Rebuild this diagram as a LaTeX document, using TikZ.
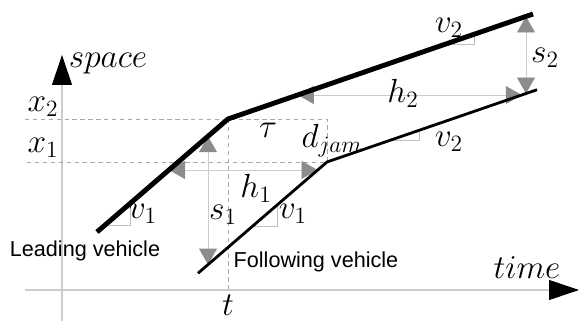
\documentclass[tikz,border=0pt]{standalone}
\usepackage{fix-cm}
\usepackage{fontspec}
\newfontfamily\vehicleFont{Liberation Sans}
\usetikzlibrary{arrows.meta, calc}
\tikzset{
    axisLine/.style={line width=0.6pt, draw=black!20, -{Triangle[length=6mm, width=4mm, color=black]}},
    leadLine/.style={line width=2.8pt},
    followLine/.style={line width=1.6pt},
    gapLine/.style={{Triangle[length=3.2mm, width=3.6mm, color=black!45]}-{Triangle[length=3.2mm, width=3.6mm, color=black!45]}, line width=0.5pt, draw=black!20},
    slopeLine/.style={line width=0.5pt, draw=black!25},
    guideLine/.style={dash pattern=on 2.5pt off 2pt, line width=0.45pt, draw=blue!15!black!35},
    mathLabel/.style={font=\fontsize{19}{21}\selectfont, inner sep=1pt},
    vehLabel/.style={font=\vehicleFont\fontsize{12.3}{14}\selectfont, inner sep=0pt}
}

\begin{document}
\begin{tikzpicture}

        \useasboundingbox (-1.24,-0.62) rectangle (10.34,5.8);

        % Coordinates
        \coordinate (O) at (0, 0);
        \coordinate (timeStart) at (-0.74, 0);
        \coordinate (timeEnd) at (10.34, 0);
        \coordinate (spaceStart) at (0, -0.62);
        \coordinate (spaceEnd) at (0, 4.7);
        \coordinate (X2) at (-0.74, 3.42);
        \coordinate (X1) at (-0.74, 2.56);

        % Leading vehicle trajectory
        \coordinate (L1) at (0.7, 1.16);
        \coordinate (L2) at (3.32, 3.42);
        \coordinate (L3) at (9.42, 5.52);
        % Following vehicle trajectory (shifted by tau and d_jam)
        \coordinate (F1) at (2.72, 0.335);
        \coordinate (F2) at (5.3, 2.56);
        \coordinate (F3) at (9.5, 4.005);

        % Axes
        \draw[axisLine] (timeStart) -- (timeEnd);
        \draw[axisLine] (spaceStart) -- (spaceEnd);

        % Guides
        \draw[guideLine] (X2) -- (F2 |- L2) -- (F2) -- (X1);
        \draw[guideLine] (L2) -- (L2 |- O);

        % Spacing and headway arrows
        \coordinate (s1Top) at (2.92, 3.075);
        \coordinate (s1Bot) at (2.92, 0.508);
        \coordinate (h1Left) at (2.14, 2.4);
        \coordinate (h1Right) at (5.11, 2.4);
        \coordinate (h2Left) at (4.715, 3.9);
        \coordinate (h2Right) at (9.195, 3.9);
        \coordinate (s2Top) at (9.28, 5.47);
        \coordinate (s2Bot) at (9.28, 3.929);
        \draw[gapLine] (s1Bot) -- (s1Top);
        \draw[gapLine] (h1Left) -- (h1Right);
        \draw[gapLine] (h2Left) -- (h2Right);
        \draw[gapLine] (s2Bot) -- (s2Top);

        % Slope marks
        \draw[slopeLine] (0.862, 1.3) -| (1.36, 1.729);
        \draw[slopeLine] (3.816, 1.28) -| (4.3, 1.698);
        \draw[slopeLine] (7.68, 4.92) -| (8.24, 5.112);
        \draw[slopeLine] (6.579, 3.0) -| (7.14, 3.193);

        % Trajectories
        \draw[leadLine] (L1) -- (L2) -- (L3);
        \draw[followLine] (F1) -- (F2) -- (F3);

        % Labels
        \node[mathLabel] (spaceLbl) at (0.92, 4.52) {$space$};
        \node[mathLabel] (timeLbl) at (9.3, 0.44) {$time$};
        \node[mathLabel] (x2Lbl) at (-0.38, 3.66) {$x_2$};
        \node[mathLabel] (x1Lbl) at (-0.38, 2.84) {$x_1$};
        \node[mathLabel] (tLbl) at (3.32, -0.3) {$t$};
        \node[mathLabel] (tauLbl) at (4.12, 3.2) {$\tau$};
        \node[mathLabel] (djamLbl) at (5.4, 2.98) {$d_{jam}$};
        \node[mathLabel] (s1Lbl) at (3.22, 1.5) {$s_1$};
        \node[mathLabel] (h1Lbl) at (3.88, 2.04) {$h_1$};
        \node[mathLabel] (h2Lbl) at (6.82, 3.94) {$h_2$};
        \node[mathLabel] (s2Lbl) at (9.66, 4.64) {$s_2$};
        \node[mathLabel] (v1LeadLbl) at (1.62, 1.52) {$v_1$};
        \node[mathLabel] (v1FollowLbl) at (4.62, 1.52) {$v_1$};
        \node[mathLabel] (v2LeadLbl) at (7.74, 5.24) {$v_2$};
        \node[mathLabel] (v2FollowLbl) at (7.74, 2.96) {$v_2$};
        \node[vehLabel] (leadLbl) at (0.46, 0.78) {Leading vehicle};
        \node[vehLabel] (followLbl) at (5.08, 0.56) {Following vehicle};

    \end{tikzpicture}
\end{document}
